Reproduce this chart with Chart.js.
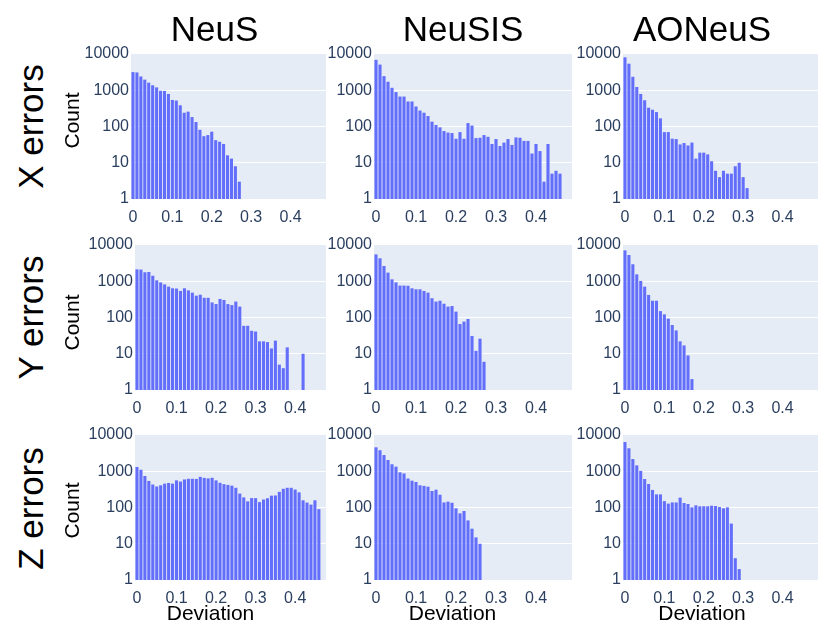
<!DOCTYPE html>
<html>
<head>
<meta charset="utf-8">
<script src="https://cdn.jsdelivr.net/npm/chart.js@4.4.0/dist/chart.umd.min.js"></script>
<style>
  body { margin: 0; background: #fff; }
  #fig { position: relative; width: 830px; height: 635px; overflow: hidden; font-family: "Liberation Sans", Arial, sans-serif; }
  #fig canvas { position: absolute; }
  .lbl { position: absolute; text-align: center; color: #000; white-space: nowrap; }
</style>
</head>
<body>
<div id="fig"></div>
<script>
// column / row names
const methods = ['NeuS', 'NeuSIS', 'AONeuS'];
const errorRows = ['X errors', 'Y errors', 'Z errors'];

// histogram bins are centred on multiples of 0.01
const binWidth = 0.01;
const xTicks = [0, 0.1, 0.2, 0.3, 0.4];
const yTicks = [1, 10, 100, 1000, 10000];

// counts per bin (null = empty bin)
const neusX = [3170, 3100, 2400, 1960, 1620, 1370, 1200, 970, 960, 790, 540, 520, 385, 240, 257, 182, 133, 81, 54, 58, 72, 42, 38, 33, 16, 13, 8, 3];
const neusisX = [6900, 5100, 2450, 1720, 1170, 890, 670, 670, 490, 490, 357, 275, 240, 195, 136, 110, 95, 75, 68, 66, 46, 70, 46, 124, 106, 48, 49, 58, 52, 33, 45, 29, 36, 45, 31, 50, 49, 40, 40, 18, 33, 21, 3, 33, 5, 6, 5];
const aoneusX = [8100, 5400, 2350, 1230, 790, 530, 330, 290, 250, 168, 70, 70, 46, 45, 32, 35, 30, 36, 13, 19, 19, 17, 11, 6, 4, 6, 5, 5, 8, 10, 4, 2];

const neusY = [2130, 2100, 1770, 1800, 1420, 1060, 930, 820, 710, 640, 630, 540, 640, 560, 485, 400, 425, 350, 350, 260, 235, 325, 305, 235, 220, 275, 200, 59, 59, 43, 41, 22, 22, 21, 14, 23, 5, 4, 15, null, null, null, 10];
const neusisY = [5500, 4300, 2630, 1730, 1130, 930, 760, 760, 750, 640, 600, 600, 540, 485, 340, 275, 290, 240, 200, 207, 145, 66, 77, 91, 31, 12, 26, 6];
const aoneusY = [7100, 5300, 2940, 1550, 1020, 710, 420, 290, 290, 150, 122, 93, 62, 44, 22, 17, 9, 2];

const neusZ = [1310, 1100, 740, 540, 430, 380, 410, 455, 475, 455, 560, 520, 595, 620, 620, 615, 700, 655, 635, 660, 560, 480, 440, 420, 400, 350, 242, 190, 148, 182, 181, 141, 166, 180, 212, 215, 270, 328, 350, 350, 313, 262, 158, 137, 120, 158, 90];
const neusisZ = [4580, 3800, 2800, 2040, 1560, 1340, 935, 870, 630, 550, 505, 410, 395, 375, 285, 310, 225, 138, 145, 135, 95, 69, 80, 44, 26, 15, 10];
const aoneusZ = [6400, 4300, 2170, 1450, 1020, 610, 445, 305, 230, 230, 150, 128, 138, 138, 187, 133, 125, 101, 115, 108, 108, 108, 112, 110, 103, 95, 101, 36, 4, 2];

const panels = [
  [neusX, neusisX, aoneusX],
  [neusY, neusisY, aoneusY],
  [neusZ, neusisZ, aoneusZ]
];

// layout (px)
const rowTop = [54, 245, 435];
const plotH = 145;
const plotLeft = [[131, 374, 623], [135, 374, 623], [135, 374, 623]];
const plotW = [[195, 198, 195], [191, 198, 195], [191, 198, 195]];
const xMin = -0.005;
const xMax = [[0.49, 0.49, 0.49], [0.478, 0.49, 0.49], [0.478, 0.49, 0.49]];
const padL = 56, padT = 14, padR = 6, padB = 28;

const tickColor = '#2a3f5f';
const barColor = '#636efa';
const plotBgColor = '#E5ECF6';

const fig = document.getElementById('fig');

const plotBg = {
  id: 'plotBg',
  beforeDraw(chart) {
    const {ctx, chartArea: a} = chart;
    ctx.save();
    ctx.fillStyle = plotBgColor;
    ctx.fillRect(a.left, a.top, a.right - a.left, a.bottom - a.top);
    ctx.restore();
  }
};

function draw_panel(r, c) {
  const counts = panels[r][c];
  const canvas = document.createElement('canvas');
  const w = padL + plotW[r][c] + padR;
  const h = padT + plotH + padB;
  canvas.width = w;
  canvas.height = h;
  canvas.style.width = w + 'px';
  canvas.style.height = h + 'px';
  canvas.style.left = (plotLeft[r][c] - padL) + 'px';
  canvas.style.top = (rowTop[r] - padT) + 'px';
  fig.appendChild(canvas);

  const data = counts.map((v, i) => ({x: +(i * binWidth).toFixed(2), y: v}));

  new Chart(canvas.getContext('2d'), {
    type: 'bar',
    data: {
      datasets: [{
        data: data,
        backgroundColor: barColor,
        borderWidth: 0,
        barPercentage: 0.78,
        categoryPercentage: 1
      }]
    },
    options: {
      responsive: false,
      animation: false,
      devicePixelRatio: 1,
      layout: { padding: { left: 0, top: padT, right: padR, bottom: 0 } },
      plugins: { legend: { display: false }, tooltip: { enabled: false } },
      scales: {
        x: {
          type: 'linear',
          min: xMin,
          max: xMax[r][c],
          offset: false,
          grid: { display: false, offset: false },
          border: { display: false },
          afterBuildTicks: s => { s.ticks = xTicks.map(v => ({value: v})); },
          afterFit: s => { s.height = padB; },
          ticks: {
            padding: 1,
            color: tickColor,
            font: { family: '"Liberation Sans", Arial, sans-serif', size: 16 },
            maxRotation: 0,
            callback: v => v === 0 ? '0' : v.toFixed(1)
          }
        },
        y: {
          type: 'logarithmic',
          min: 1,
          max: 10000,
          border: { display: false },
          grid: {
            drawTicks: false,
            lineWidth: 1,
            color: ctx => (ctx.tick && (ctx.tick.value === 1 || ctx.tick.value === 10000)) ? 'rgba(0,0,0,0)' : '#ffffff'
          },
          afterBuildTicks: s => { s.ticks = yTicks.map(v => ({value: v})); },
          afterFit: s => { s.width = padL; },
          ticks: {
            padding: 2,
            color: tickColor,
            font: { family: '"Liberation Sans", Arial, sans-serif', size: 16 },
            callback: v => String(v)
          }
        }
      }
    },
    plugins: [plotBg]
  });
}

for (let r = 0; r < 3; r++) {
  for (let c = 0; c < 3; c++) draw_panel(r, c);
}

// text labels
function add_label(text, cx, baseline, size, rotate) {
  const d = document.createElement('div');
  d.className = 'lbl';
  d.textContent = text;
  d.style.fontSize = size + 'px';
  d.style.lineHeight = size + 'px';
  d.style.height = size + 'px';
  d.style.width = '240px';
  if (rotate) {
    // cx, baseline are the centre of the rotated text
    d.style.left = (cx - 120) + 'px';
    d.style.top = (baseline - size / 2) + 'px';
    d.style.transform = 'rotate(-90deg)';
  } else {
    d.style.left = (cx - 120) + 'px';
    d.style.top = (baseline - 0.8465 * size) + 'px';
  }
  fig.appendChild(d);
}

const colTitleX = [214.5, 463, 702];
const devX = [210.5, 452.5, 702];
const countY = [120, 322, 510];
const rowLabelY = [126.5, 317.5, 508];

methods.forEach((m, i) => add_label(m, colTitleX[i], 40.5, 35, false));
devX.forEach(x => add_label('Deviation', x, 620, 21, false));
errorRows.forEach((t, i) => add_label(t, 30, rowLabelY[i], 35, true));
countY.forEach(y => add_label('Count', 71, y, 21, true));
</script>
</body>
</html>
